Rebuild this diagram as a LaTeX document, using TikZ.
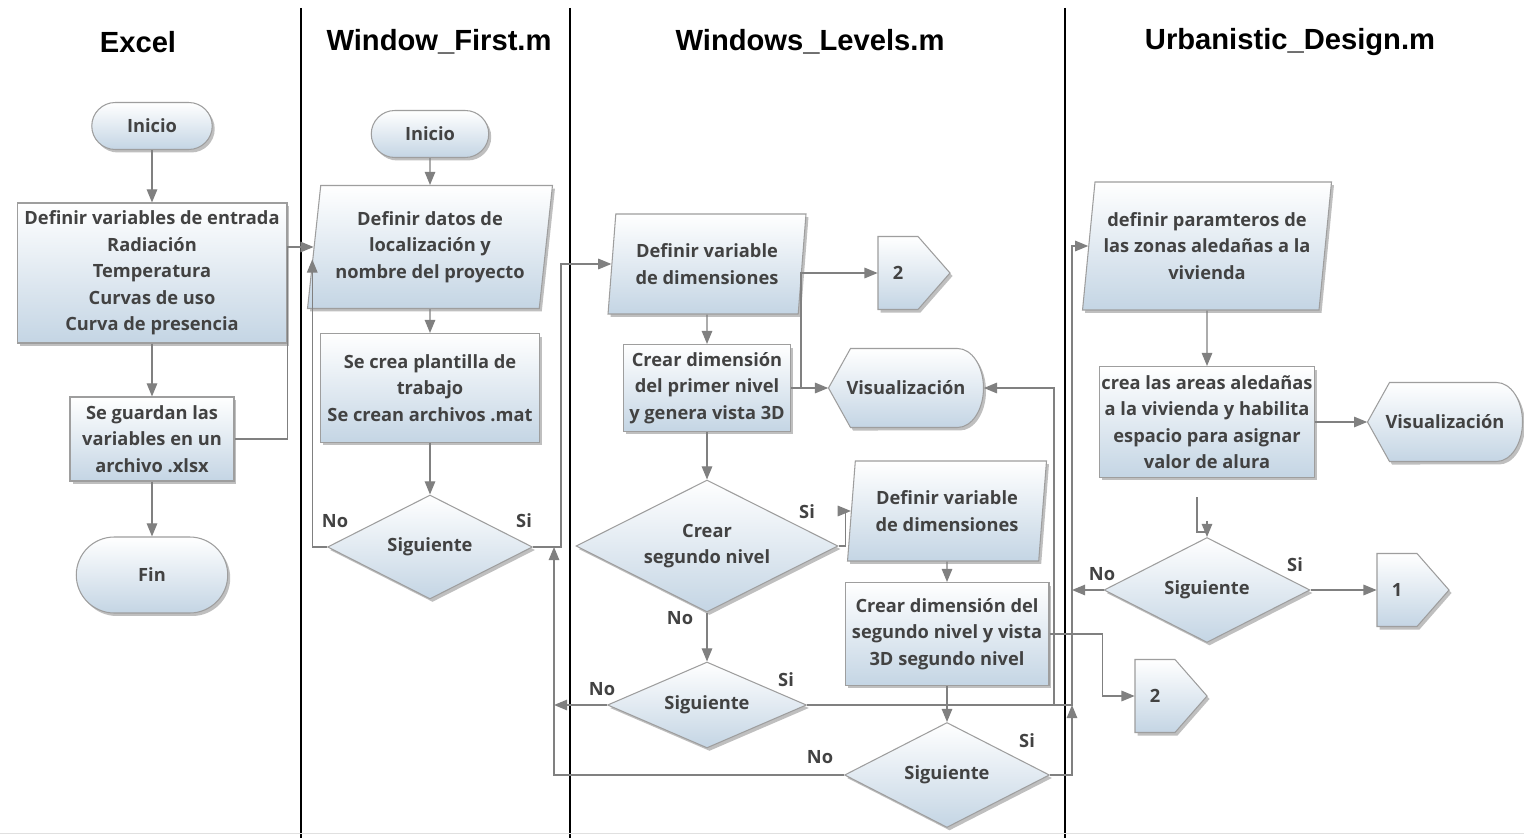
\documentclass[tikz,border=0pt]{standalone}
\usepackage{fontspec}
\setmainfont{Open Sans}
\newfontfamily\boxfont{Open Sans}
\newfontfamily\headfont{Liberation Sans}
\usetikzlibrary{shapes.geometric,shapes.misc,arrows.meta,shadows,calc}

\definecolor{boxblue}{RGB}{196,213,228}
\definecolor{boxline}{RGB}{158,158,158}
\definecolor{wirecol}{RGB}{128,128,128}
\definecolor{ink}{RGB}{66,66,66}
\newcommand{\boxtext}{\boxfont\bfseries\fontsize{10.4}{15.1}\selectfont}

% display shape: pointed left, round right
\newcommand{\visual}[4]{%
  \path[boxfill, shift={(#2,#3)}] (-77.5,0) -- (-55.5,-39.5) -- (51.5,-39.5)
    arc[start angle=90, end angle=-90, x radius=0.52cm, y radius=0.79cm]
    -- (-55.5,39.5) -- cycle;
  \node[ghost, minimum width=3.1cm, minimum height=1.58cm] (#1) at (#2,#3) {#4};}
% off-page connector
\newcommand{\offpage}[4]{%
  \path[boxfill, shift={(#2,#3)}] (-36,-36.5) -- (4,-36.5) -- (36,0) -- (4,36.5) -- (-36,36.5) -- cycle;
  \node[ghost, minimum width=0.8cm, minimum height=1.46cm] (#1) at (#2-16,#3) {#4};}

\begin{document}
\begin{tikzpicture}[x=0.02cm, y=-0.02cm,
  boxfill/.style={draw=boxline, line width=0.6pt, top color=white, bottom color=boxblue,
    drop shadow={shadow xshift=0.05cm, shadow yshift=-0.06cm, fill=black, opacity=0.25}},
  proc/.style={boxfill, rectangle, font=\boxtext, text=ink, align=center, inner sep=1pt},
  term/.style={proc, rounded rectangle},
  data/.style={proc, trapezium, trapezium left angle=80, trapezium right angle=100, trapezium stretches body},
  decision/.style={proc, diamond, aspect=2, inner sep=0pt},
  ghost/.style={rectangle, font=\boxtext, text=ink, inner sep=0pt},
  tag/.style={font=\boxtext, text=ink, inner sep=0pt},
  lane/.style={draw=black, line width=0.7pt},
  head/.style={font=\headfont\bfseries\fontsize{16.6}{20}\selectfont},
  wire/.style={draw=wirecol, line width=0.75pt},
  arrow/.style={wire, -{Triangle[length=7.5pt, width=6pt]}}]

  \path[use as bounding box, fill=white] (0,0) rectangle (1524,838);

  % Lanes
  \draw[lane] (301,8) -- (301,838);
  \draw[lane] (570,8) -- (570,838);
  \draw[lane] (1065,8) -- (1065,838);
  \draw[black!12] (0,833) -- (1524,833);
  \node[head] (hexcel) at (138,42) {Excel};
  \node[head] (hfirst) at (439,42) {Window\_First.m};
  \node[head] (hlevels) at (810,42) {Windows\_Levels.m};
  \node[head] (hurban) at (1290,42) {Urbanistic\_Design.m};

  % Excel
  \node[term, minimum width=2.48cm, minimum height=0.94cm] (ini1) at (152,126) {Inicio};
  \node[proc, minimum width=5.4cm, minimum height=2.8cm] (entrada) at (152,273)
    {Definir variables de entrada\\Radiación\\Temperatura\\Curvas de uso\\Curva de presencia};
  \node[proc, minimum width=3.28cm, minimum height=1.68cm] (guarda) at (152,439)
    {Se guardan las\\variables en un\\archivo .xlsx};
  \node[term, minimum width=3.1cm, minimum height=1.52cm] (fin) at (152,575) {Fin};

  % Window_First
  \node[term, minimum width=2.42cm, minimum height=0.94cm] (ini2) at (430,134) {Inicio};
  \node[data, minimum width=4.9cm, minimum height=2.46cm] (datos) at (430,247)
    {Definir datos de\\localización y\\nombre del proyecto};
  \node[proc, minimum width=4.38cm, minimum height=2.18cm] (plant) at (430,388)
    {Se crea plantilla de\\trabajo\\Se crean archivos .mat};
  \node[decision, minimum width=4.1cm, minimum height=2.08cm] (sig1) at (430,547) {Siguiente};

  % Windows_Levels
  \node[data, minimum width=3.96cm, minimum height=2cm] (dim1) at (707,264)
    {Definir variable\\de dimensiones};
  \node[proc, minimum width=3.34cm, minimum height=1.74cm] (crear1) at (707,388)
    {Crear dimensión\\del primer nivel\\y genera vista 3D};
  \offpage{con2a}{914}{273}{2}
  \visual{vis1}{906}{388}{Visualización}
  \node[decision, minimum width=5.24cm, minimum height=2.64cm] (nivel2) at (707,546)
    {Crear\\segundo nivel};
  \node[data, minimum width=3.98cm, minimum height=2cm] (dim2) at (947,511)
    {Definir variable\\de dimensiones};
  \node[proc, minimum width=4.08cm, minimum height=2.06cm] (crear2) at (947,634)
    {Crear dimensión del\\segundo nivel y vista\\3D segundo nivel};
  \node[decision, minimum width=3.98cm, minimum height=1.72cm] (sig2) at (707,705) {Siguiente};
  \node[decision, minimum width=4.1cm, minimum height=2.1cm] (sig3) at (947,775) {Siguiente};
  \offpage{con2b}{1171}{696}{2}

  % Urbanistic_Design
  \node[data, minimum width=4.98cm, minimum height=2.56cm] (zonas) at (1207,246)
    {definir paramteros de\\las zonas aledañas a la\\vivienda};
  \node[proc, minimum width=4.28cm, minimum height=2.22cm] (areas) at (1207,422)
    {crea las areas aledañas\\a la vivienda y habilita\\espacio para asignar\\valor de alura};
  \visual{vis2}{1445}{422}{Visualización}
  \node[decision, minimum width=4.12cm, minimum height=2.1cm] (sig4) at (1207,590) {Siguiente};
  \offpage{con1}{1413}{590}{1}

  % Yes / no tags
  \node[tag] (no1) at (335,521) {No};
  \node[tag] (si1) at (524,521) {Si};
  \node[tag] (si2) at (807,512) {Si};
  \node[tag] (no2) at (680,618) {No};
  \node[tag] (no3) at (602,689) {No};
  \node[tag] (si3) at (786,680) {Si};
  \node[tag] (no4) at (820,757) {No};
  \node[tag] (si4) at (1027,741) {Si};
  \node[tag] (no5) at (1102,574) {No};
  \node[tag] (si5) at (1295,565) {Si};

  % Flow in Excel
  \draw[arrow] (ini1.south) -- (entrada.north);
  \draw[arrow] (entrada.south) -- (guarda.north);
  \draw[arrow] (guarda.south) -- (fin.north);
  \draw[arrow] (guarda.east) -| (entrada.east |- datos.west) -- (datos.west);

  % Flow in Window_First
  \draw[arrow] (ini2.south) -- (datos.north);
  \draw[arrow] (datos.south) -- (plant.north);
  \draw[arrow] (plant.south) -- (sig1.north);
  \draw[arrow] (sig1.west) -| ($(datos.bottom left corner)!0.4!(datos.top left corner)$);
  \draw[arrow] (sig1.east) -- ++(28,0) |- (dim1.west);

  % Flow in Windows_Levels
  \draw[arrow] (dim1.south) -- (crear1.north);
  \draw[arrow] (crear1.east) -- (vis1.west);
  \draw[arrow] (crear1.east) -- ++(10,0) |- (con2a.west);
  \draw[arrow] (crear1.south) -- (nivel2.north);
  \draw[arrow] (nivel2.east) -- ++(7,0) |- (dim2.west);
  \draw[arrow] (nivel2.south) -- (sig2.north);
  \draw[arrow] (dim2.south) -- (crear2.north);
  \draw[arrow] (crear2.south) -- (sig3.north);
  \draw[arrow] (crear2.east) -- ++(53,0) |- (con2b.west);
  \coordinate (ret) at ($(sig1.east)+(21,0)$);
  \draw[arrow] (sig3.west) -| (ret);
  \draw[arrow] (sig2.west) -- (sig2.west -| ret);
  \coordinate (bus) at (1072,705);
  \coordinate (tap) at (1054,705);
  \draw[arrow] (sig2.east) -- (bus) |- (zonas.west);
  \draw[arrow] (sig3.east) -| (bus);
  \draw[arrow] (tap) |- (vis1.east);

  % Flow in Urbanistic_Design
  \draw[arrow] (zonas.south) -- (areas.north);
  \draw[arrow] (areas.east) -- (vis2.west);
  \coordinate (stub) at (1197,497);
  \draw[wire] (stub) |- ($(sig4.north)+(0,-5)$);
  \draw[arrow] ($(sig4.north)+(0,-16)$) -- (sig4.north);
  \draw[arrow] (sig4.west) -- (sig4.west -| bus);
  \draw[arrow] (sig4.east) -- (con1.west);
\end{tikzpicture}
\end{document}
